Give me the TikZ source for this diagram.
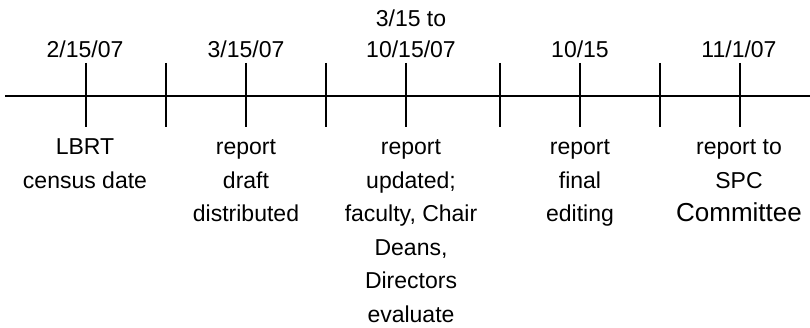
\documentclass[tikz,border=0pt]{standalone}
\usepackage{fontspec}
\setmainfont{Liberation Sans}
\begin{document}
\begin{tikzpicture}[x=1pt,y=-1pt,
  axisline/.style={line width=2pt,line cap=butt},
  tickline/.style={line width=2pt,line cap=butt},
  lbl/.style={inner sep=0pt,anchor=base,font=\fontsize{23}{33.5}\selectfont},
  toplbl/.style={inner sep=0pt,anchor=base,font=\fontsize{23}{31}\selectfont},
  big/.style={font=\fontsize{26}{33.5}\selectfont}
]
\useasboundingbox (0,0) rectangle (810,328);
% axis
\coordinate (axL) at (5,96);
\coordinate (axR) at (810,96);
\draw[axisline] (axL) -- (axR);
% ticks
\foreach \x/\n in {86/t1,166/t2,246/t3,326/t4,406/t5,500/t6,580/t7,660/t8,740/t9}{
  \coordinate (\n a) at (\x,63);
  \coordinate (\n b) at (\x,127);
  \draw[tickline] (\n a) -- (\n b);
}
% top labels
\node[lbl] (d1) at (85,58) {2/15/07};
\node[lbl] (d2) at (246,58) {3/15/07};
\node[toplbl] (d3) at (411,58) {\begin{tabular}[b]{@{}c@{}}3/15 to\\10/15/07\end{tabular}};
\node[lbl] (d4) at (580,58) {10/15};
\node[lbl] (d5) at (739,58) {11/1/07};
% bottom labels
\node[lbl] (e1) at (85,155) {\begin{tabular}[t]{@{}c@{}}LBRT\\census date\end{tabular}};
\node[lbl] (e2) at (246,155) {\begin{tabular}[t]{@{}c@{}}report\\draft\\distributed\end{tabular}};
\node[lbl] (e3) at (411,155) {\begin{tabular}[t]{@{}c@{}}report\\updated;\\faculty, Chair\\Deans,\\Directors\\evaluate\end{tabular}};
\node[lbl] (e4) at (580,155) {\begin{tabular}[t]{@{}c@{}}report\\final\\editing\end{tabular}};
\node[lbl] (e5) at (739,155) {\begin{tabular}[t]{@{}c@{}}report to\\SPC\\{\fontsize{26}{33.5}\selectfont Committee}\end{tabular}};
\end{tikzpicture}
\end{document}
